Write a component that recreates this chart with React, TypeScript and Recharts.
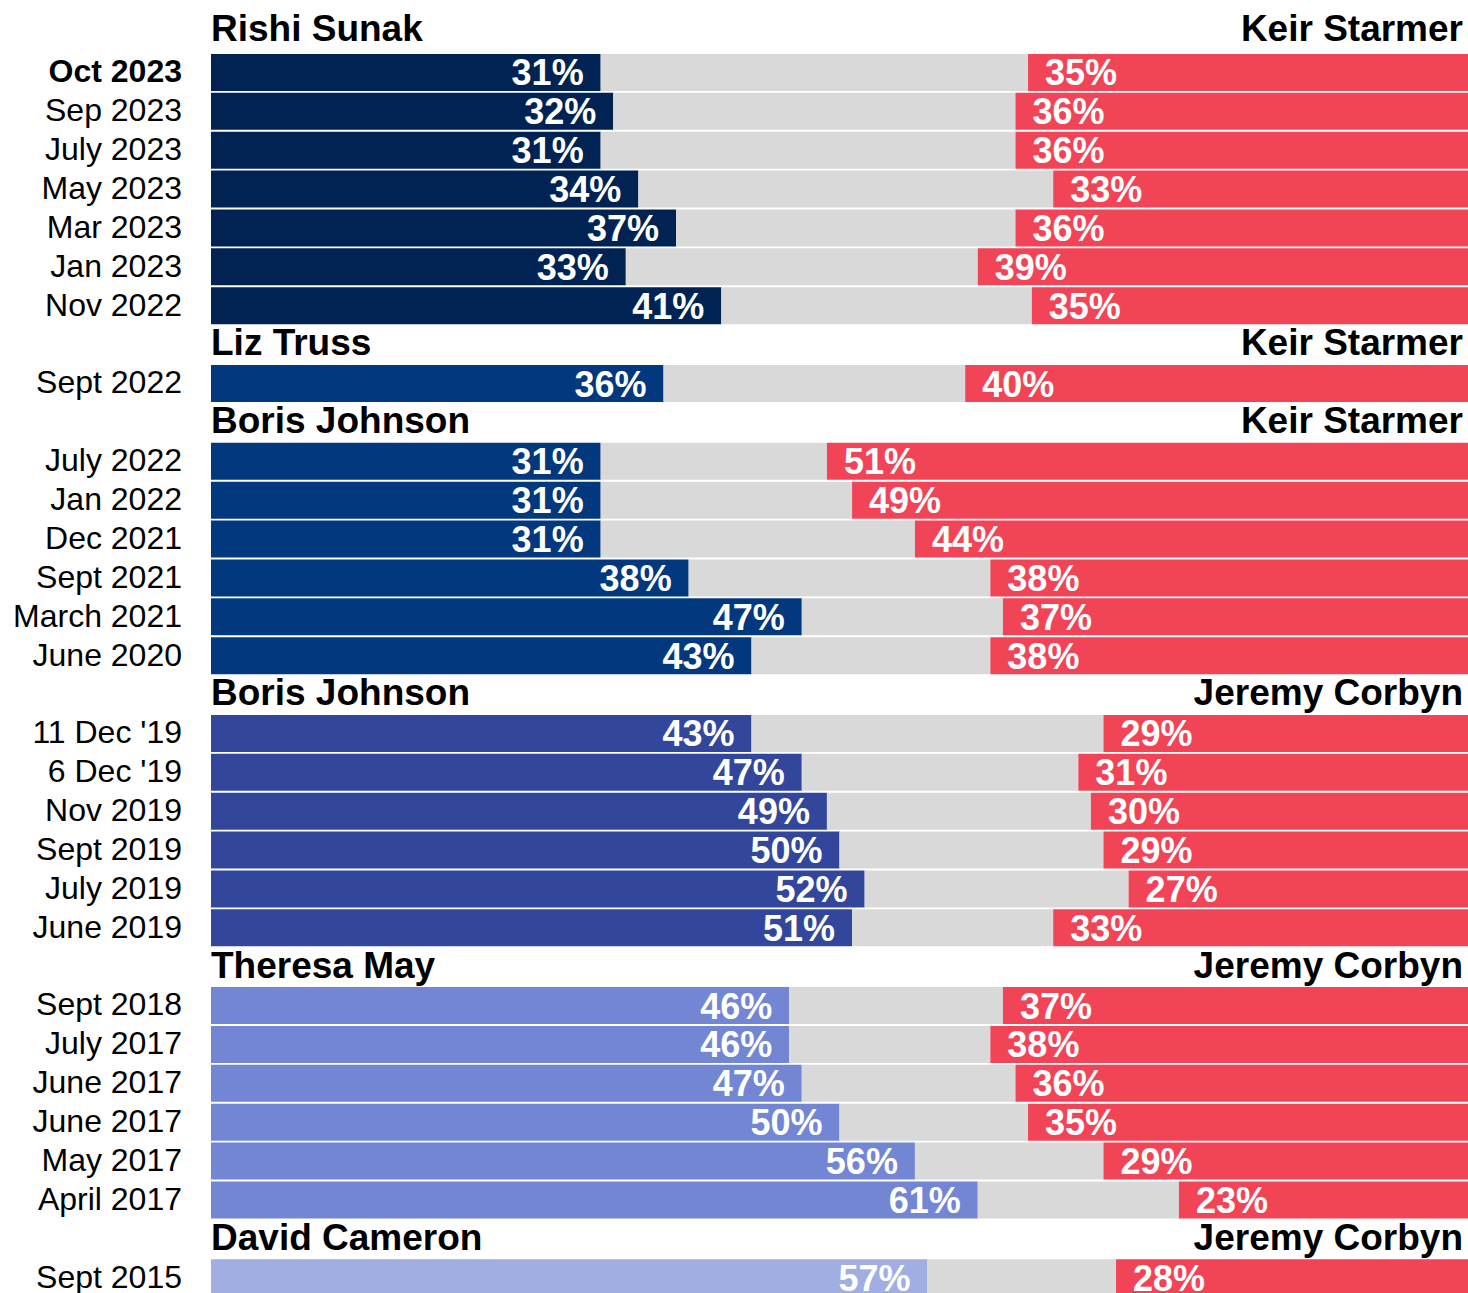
import React from 'react';
import { BarChart, Bar, XAxis, YAxis, Cell, LabelList } from 'recharts';

// leaders per block (top to bottom)
const conLeaders = ['Rishi Sunak', 'Liz Truss', 'Boris Johnson', 'Boris Johnson', 'Theresa May', 'David Cameron'];
const labLeaders = ['Keir Starmer', 'Keir Starmer', 'Keir Starmer', 'Jeremy Corbyn', 'Jeremy Corbyn', 'Jeremy Corbyn'];
const conColors = ['#012354', '#02387d', '#32479b', '#7286d4', '#a1aee1'];
const blockColor = [0, 1, 1, 2, 3, 4];
const blockSize = [7, 1, 6, 6, 6, 1];

const pollDates = [
  'Oct 2023', 'Sep 2023', 'July 2023', 'May 2023', 'Mar 2023', 'Jan 2023', 'Nov 2022',
  'Sept 2022',
  'July 2022', 'Jan 2022', 'Dec 2021', 'Sept 2021', 'March 2021', 'June 2020',
  "11 Dec '19", "6 Dec '19", 'Nov 2019', 'Sept 2019', 'July 2019', 'June 2019',
  'Sept 2018', 'July 2017', 'June 2017', 'June 2017', 'May 2017', 'April 2017',
  'Sept 2015',
];
const conShare = [
  31, 32, 31, 34, 37, 33, 40.6,
  36,
  31, 31, 31, 38, 47, 43,
  43, 47, 49, 50, 52, 51,
  46, 46, 47, 50, 56, 61,
  57,
];
const labShare = [
  35, 36, 36, 33, 36, 39, 34.7,
  40,
  51, 49, 44, 38, 37, 38,
  29, 31, 30, 29, 27, 33,
  37, 38, 36, 35, 29, 23,
  28,
];

type Row = {
  key: string;
  header?: boolean;
  block: number;
  date?: string;
  con?: number | null;
  gap?: number | null;
  lab?: number | null;
};

const rows: Row[] = [];
let idx = 0;
blockSize.forEach((n, b) => {
  rows.push({ key: 'h' + b, header: true, block: b, con: null, gap: null, lab: null });
  for (let i = 0; i < n; i++) {
    const con = conShare[idx];
    const lab = labShare[idx];
    rows.push({ key: 'r' + idx, block: b, date: pollDates[idx], con, gap: 100 - con - lab, lab });
    idx++;
  }
});

const FONT = '"Liberation Sans", Arial, sans-serif';

const RowTick = (props: any) => {
  const { y, payload } = props;
  const row = rows.find((r) => r.key === payload.value);
  if (!row) return null;
  if (row.header) {
    // first header sits a bit higher, it is squeezed against the top
    const dy = row.block === 0 ? 7.5 : 11;
    return (
      <g fontFamily={FONT} fontWeight="bold" fontSize={37} fill="#000">
        <text x={211} y={y + dy} textAnchor="start">{conLeaders[row.block]}</text>
        <text x={1463} y={y + dy} textAnchor="end">{labLeaders[row.block]}</text>
      </g>
    );
  }
  return (
    <text
      x={182}
      y={y + 10}
      textAnchor="end"
      fontFamily={FONT}
      fontSize={32}
      fontWeight={row.key === 'r0' ? 'bold' : 'normal'}
      fill="#000"
    >
      {row.date}
    </text>
  );
};

const ConLabel = (props: any) => {
  const { x, y, width, height, value } = props;
  if (value == null) return null;
  return (
    <text x={x + width - 17} y={y + height / 2 + 13} textAnchor="end" fill="#fff"
      fontFamily={FONT} fontWeight="bold" fontSize={36}>
      {Math.round(value)}%
    </text>
  );
};

const LabLabel = (props: any) => {
  const { x, y, height, value } = props;
  if (value == null) return null;
  return (
    <text x={x + 17} y={y + height / 2 + 13} textAnchor="start" fill="#fff"
      fontFamily={FONT} fontWeight="bold" fontSize={36}>
      {Math.round(value)}%
    </text>
  );
};

export default function App() {
  return (
    <div style={{ position: 'absolute', left: 0, top: 0, width: 1468, height: 1297, background: '#fff' }}>
      <BarChart
        width={1468}
        height={1297}
        data={rows}
        layout="vertical"
        margin={{ top: 14, right: 0, bottom: 0, left: 0 }}
        barCategoryGap={1.1}
      >
        <XAxis type="number" domain={[0, 100]} hide />
        <YAxis
          type="category"
          dataKey="key"
          width={211}
          interval={0}
          axisLine={false}
          tickLine={false}
          tick={<RowTick />}
        />
        <Bar dataKey="con" stackId="a" isAnimationActive={false}>
          {rows.map((r) => (
            <Cell key={r.key} fill={conColors[blockColor[r.block]]} />
          ))}
          <LabelList dataKey="con" content={<ConLabel />} />
        </Bar>
        <Bar dataKey="gap" stackId="a" fill="#d9d9d9" isAnimationActive={false} />
        <Bar dataKey="lab" stackId="a" fill="#f14457" isAnimationActive={false}>
          <LabelList dataKey="lab" content={<LabLabel />} />
        </Bar>
      </BarChart>
    </div>
  );
}
